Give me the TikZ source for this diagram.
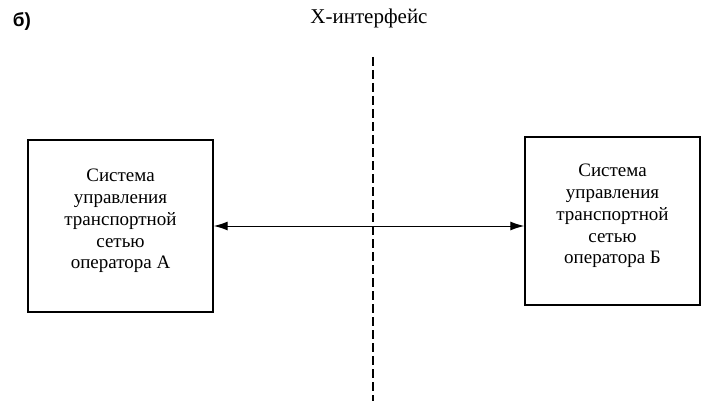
\documentclass[tikz,border=0pt]{standalone}
\usepackage{fontspec}
\setmainfont{Liberation Serif}
\newfontfamily\markfont{Liberation Sans}
\usetikzlibrary{arrows.meta,positioning}

\begin{document}
\begin{tikzpicture}[x=1pt,y=1pt,>={Latex[length=14pt,width=9pt]},semithick]
  \tikzstyle{system}=[draw,line width=1.4pt,align=center,inner sep=0pt,
                      font=\fontsize{19}{21.8}\selectfont]
  \useasboundingbox (0,0) rectangle (703,-401);

  \node (mark) at (22,-22) {\markfont\bfseries\fontsize{19}{21}\selectfont б)};
  \node (xlabel) at (369,-18) {\fontsize{21}{24}\selectfont X-интерфейс};

  \node[system,minimum width=185,minimum height=172] (opA) at (120.5,-226)
        {Система\\управления\\транспортной\\сетью\\оператора А\\[-8pt]};
  \node[system,minimum width=175,minimum height=168] (opB) at (612.5,-221)
        {Система\\управления\\транспортной\\сетью\\оператора Б\\[-8pt]};

  \coordinate (xtop) at (373,-57);
  \coordinate (xbot) at (373,-401);

  \draw[line width=1.3pt,dash pattern=on 9pt off 4pt] (xtop) -- (xbot);
  \draw[<->,line width=1pt] (opA.east) -- (opA.east -| opB.west);
\end{tikzpicture}
\end{document}
